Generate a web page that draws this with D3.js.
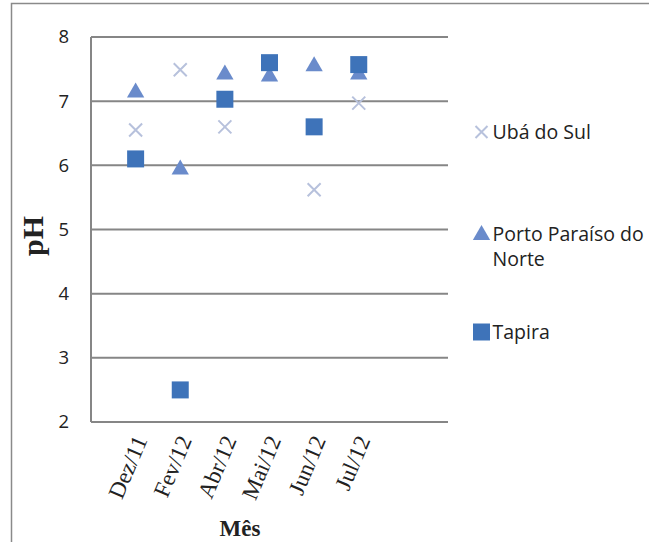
<!DOCTYPE html>
<html><head><meta charset="utf-8">
<script src="https://cdn.jsdelivr.net/npm/d3@7"></script>
<style>body{margin:0;background:#fff}svg{display:block}</style>
</head><body>
<svg id="c" width="649" height="542"></svg>
<script>
const months = ["Dez/11","Fev/12","Abr/12","Mai/12","Jun/12","Jul/12"];
const xPos = [1,2,3,4,5,6];
const uba = [6.55,7.49,6.6,7.6,5.62,6.97];
const porto = [7.15,5.95,7.43,7.4,7.56,7.43];
const tapira = [6.1,2.5,7.03,7.6,6.6,7.57];
const yTicks = [2,3,4,5,6,7,8];
const seriesNames = ["Ubá do Sul","Porto Paraíso do Norte","Tapira"];

const svg = d3.select("#c");
const L=91, R=448, T=37, B=422;
const x = d3.scaleLinear().domain([0,8]).range([L,R]);
const y = d3.scaleLinear().domain([2,8]).range([B,T]);

svg.append("rect").attr("x",11.5).attr("y",3.5).attr("width",700).attr("height",600)
  .attr("fill","none").attr("stroke","#8a8a8a").attr("stroke-width",1.5);

// gridlines
svg.append("g").selectAll("line").data(yTicks).join("line")
  .attr("x1",L).attr("x2",R).attr("y1",d=>y(d)).attr("y2",d=>y(d))
  .attr("stroke","#868686").attr("stroke-width",2);
svg.append("line").attr("x1",L).attr("x2",L).attr("y1",T).attr("y2",B)
  .attr("stroke","#868686").attr("stroke-width",2);

// y axis labels
const yAxis = d3.axisLeft(y).tickValues(yTicks).tickFormat(d3.format("d")).tickSize(0).tickPadding(0);
const gy = svg.append("g").attr("transform",`translate(${L-22},0)`).call(yAxis);
gy.select(".domain").remove();
gy.selectAll("text").attr("font-family","'Open Sans'").attr("font-size",18.5).attr("fill","#222");

// x labels
svg.append("g").selectAll("text").data(months).join("text")
  .attr("transform",(d,i)=>`translate(${x(xPos[i])+12},440) rotate(-67)`)
  .attr("text-anchor","end").attr("font-family","'Liberation Serif'").attr("font-size",23)
  .attr("fill","#222").text(d=>d);

svg.append("text").attr("x",240).attr("y",536).attr("text-anchor","middle")
  .attr("font-family","'Liberation Serif'").attr("font-weight","bold").attr("font-size",23)
  .attr("fill","#222").text("Mês");
svg.append("text").attr("transform","translate(43,236) rotate(-90)").attr("text-anchor","middle")
  .attr("font-family","'Liberation Serif'").attr("font-weight","bold").attr("font-size",30)
  .attr("fill","#222").text("pH");

const cX="#b7c1dc", cT="#6a8bcb", cS="#3e73b9";
const xMark = s => `M${-s},${-s}L${s},${s}M${-s},${s}L${s},${-s}`;
const tri = d3.symbol().type(d3.symbolTriangle).size(130)();
const sq = d3.symbol().type(d3.symbolSquare).size(289)();

svg.append("g").selectAll("path").data(uba).join("path")
  .attr("transform",(d,i)=>`translate(${x(xPos[i])},${y(d)})`)
  .attr("d",xMark(6.5)).attr("stroke",cX).attr("stroke-width",2).attr("fill","none");
svg.append("g").selectAll("path").data(porto).join("path")
  .attr("transform",(d,i)=>`translate(${x(xPos[i])},${y(d)+1})`)
  .attr("d",tri).attr("fill",cT);
svg.append("g").selectAll("path").data(tapira).join("path")
  .attr("transform",(d,i)=>`translate(${x(xPos[i])},${y(d)})`)
  .attr("d",sq).attr("fill",cS);

// legend
const lg = svg.append("g");
const items = [
  {name:["Ubá do Sul"], y:132, type:"x"},
  {name:["Porto Paraíso do","Norte"], y:234, type:"t"},
  {name:["Tapira"], y:332, type:"s"}
];
items.forEach((it,k)=>{
  const g = lg.append("g").attr("transform",`translate(481.5,${it.y})`);
  if(it.type==="x") g.append("path").attr("d",xMark(6)).attr("stroke",cX).attr("stroke-width",2);
  if(it.type==="t") g.append("path").attr("d",tri).attr("fill",cT).attr("transform","translate(0,1)");
  if(it.type==="s") g.append("path").attr("d",sq).attr("fill",cS);
  it.name.forEach((ln,j)=>g.append("text").attr("x",11).attr("y",7+j*25)
    .attr("font-family","'Open Sans'").attr("font-size",19.5).attr("fill","#222").text(ln));
});
</script>
</body></html>
